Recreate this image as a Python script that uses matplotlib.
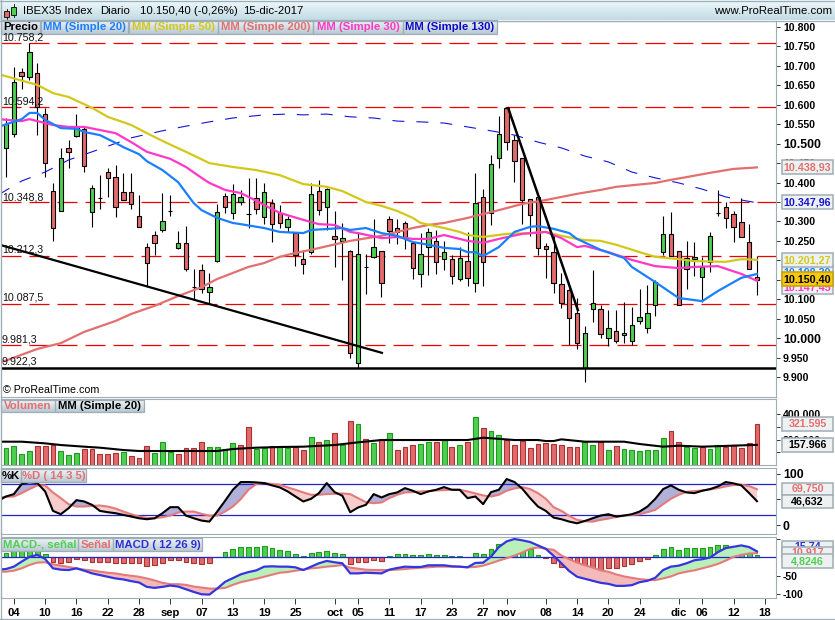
#!/usr/bin/env python3
"""IBEX35 daily candles with moving averages, volume, stochastic and MACD panels."""
import numpy as np
import matplotlib

matplotlib.use("Agg")
import matplotlib.pyplot as plt
from matplotlib.patches import Rectangle

plt.rcParams["font.family"] = ["Liberation Sans", "DejaVu Sans"]

# ---- candles, one value per session
opens = [10489, 10525, 10684, 10671, 10682, 10576, 10378, 10327, 10489, 10520, 10538, 10324, 10360, 10427, 10414, 10376,
         10376, 10314, 10234, 10265, 10278, 10327, 10232, 10245, 10131, 10175, 10118, 10198, 10365, 10322, 10350, 10319,
         10360, 10311, 10347, 10322, 10286, 10270, 10203, 10221, 10378, 10337, 10263, 10250, 10224, 9936, 10183, 10209,
         10224, 10306, 10283, 10296, 10245, 10165, 10234, 10250, 10203, 10203, 10152, 10198, 10142, 10363, 10322, 10463,
         10592, 10509, 10463, 10358, 10363, 10237, 10221, 10139, 10124, 10065, 9923, 10075, 10075, 10000, 10018, 10008,
         9993, 10044, 10026, 10085, 10221, 10268, 10224, 10178, 10203, 10157, 10196, 10322, 10337, 10319, 10299, 10247,
         10157]
highs = [10566, 10697, 10695, 10759, 10707, 10592, 10399, 10489, 10509, 10576, 10543, 10394, 10419, 10437, 10445, 10424,
         10424, 10368, 10245, 10275, 10373, 10368, 10275, 10288, 10178, 10191, 10168, 10345, 10373, 10396, 10381, 10412,
         10412, 10399, 10358, 10342, 10314, 10273, 10227, 10399, 10407, 10386, 10327, 10296, 10227, 10270, 10216, 10306,
         10224, 10314, 10306, 10301, 10247, 10270, 10283, 10278, 10250, 10214, 10234, 10273, 10424, 10383, 10471, 10571,
         10594, 10522, 10463, 10358, 10363, 10245, 10270, 10168, 10126, 10103, 10031, 10175, 10085, 10072, 10072, 10093,
         10080, 10126, 10137, 10149, 10314, 10324, 10224, 10250, 10247, 10209, 10273, 10381, 10350, 10327, 10360, 10293,
         10211]
lows = [10414, 10517, 10641, 10664, 10522, 10414, 10250, 10327, 10437, 10517, 10427, 10286, 10332, 10363, 10311, 10355,
        10332, 10286, 10134, 10214, 10273, 10314, 10229, 10173, 10098, 10116, 10088, 10196, 10322, 10306, 10342, 10283,
        10319, 10293, 10247, 10283, 10273, 10185, 10165, 10216, 10317, 10278, 10183, 10149, 9949, 9923, 10113, 10206,
        10106, 10245, 10242, 10229, 10152, 10131, 10162, 10165, 10175, 10139, 10147, 10134, 10119, 10134, 10291, 10437,
        10484, 10401, 10293, 10263, 10214, 10155, 10116, 10077, 9982, 9972, 9887, 10041, 10000, 9980, 9987, 9987,
        9982, 10036, 10013, 10057, 10214, 10211, 10085, 10126, 10160, 10093, 10170, 10314, 10283, 10247, 10260, 10178,
        10111]
closes = [10551, 10658, 10674, 10736, 10594, 10450, 10283, 10463, 10479, 10543, 10443, 10386, 10360, 10412, 10337, 10355,
          10345, 10286, 10193, 10245, 10301, 10327, 10245, 10178, 10131, 10126, 10131, 10324, 10337, 10371, 10363, 10319,
          10332, 10376, 10293, 10296, 10306, 10214, 10191, 10371, 10329, 10383, 10255, 10257, 9962, 10216, 10183, 10234,
          10142, 10275, 10273, 10260, 10180, 10216, 10273, 10196, 10221, 10160, 10206, 10155, 10347, 10196, 10448, 10525,
          10504, 10455, 10355, 10317, 10232, 10229, 10142, 10090, 10052, 9987, 10013, 10090, 10011, 10026, 9993, 10013,
          10034, 10054, 10065, 10144, 10268, 10211, 10085, 10206, 10209, 10183, 10263, 10322, 10309, 10286, 10260, 10178,
          10150.4]

# ---- moving averages, read at the bar numbers next to them
ma20_x = [-1, 2, 3, 4, 5, 7, 9, 10, 12, 14, 15, 17, 18, 20, 22, 24, 25, 27, 29, 30, 33, 35, 38, 39, 43, 44, 46, 48, 50,
          52, 54, 56, 58, 59, 60, 61, 63, 65, 67, 68, 70, 72, 73, 76, 79, 80, 83, 86, 89, 91, 94, 96]
ma20 = [10543, 10563, 10579, 10579, 10561, 10540, 10538, 10530, 10522, 10502, 10491, 10473, 10455, 10432, 10401, 10347,
        10329, 10309, 10296, 10293, 10283, 10273, 10270, 10278, 10283, 10278, 10283, 10270, 10263, 10247, 10240, 10232,
        10229, 10221, 10221, 10211, 10234, 10273, 10286, 10288, 10281, 10270, 10255, 10227, 10206, 10183, 10144, 10103,
        10095, 10121, 10155, 10165]
ma50_x = [-1, 4, 6, 8, 11, 13, 16, 18, 20, 23, 26, 29, 32, 35, 38, 41, 43, 46, 48, 50, 52, 53, 56, 58, 59, 61, 64, 67,
          69, 71, 73, 74, 76, 78, 81, 83, 86, 88, 92, 94, 96]
ma50 = [10679, 10651, 10630, 10620, 10592, 10569, 10548, 10527, 10507, 10479, 10450, 10440, 10432, 10419, 10396, 10389,
        10378, 10350, 10340, 10327, 10309, 10296, 10283, 10273, 10265, 10260, 10268, 10270, 10273, 10263, 10255, 10252,
        10250, 10240, 10221, 10209, 10203, 10198, 10196, 10203, 10201.27]
ma200_x = [-1, 4, 7, 10, 14, 16, 19, 22, 25, 27, 31, 33, 35, 37, 39, 44, 48, 52, 54, 56, 59, 63, 66, 69, 71, 73, 76, 78,
           83, 85, 87, 90, 93, 96]
ma200 = [9935, 9972, 9987, 10016, 10044, 10062, 10083, 10108, 10131, 10152, 10183, 10193, 10209, 10219, 10227, 10250,
         10263, 10283, 10291, 10296, 10309, 10329, 10345, 10355, 10363, 10371, 10381, 10389, 10399, 10407, 10414, 10425,
         10435, 10438.93]
ma30_x = [-1, 2, 3, 6, 8, 10, 12, 14, 16, 18, 21, 23, 25, 26, 28, 30, 32, 33, 35, 38, 40, 42, 44, 45, 48, 50, 52, 54,
          56, 59, 61, 63, 66, 69, 71, 73, 74, 77, 80, 83, 86, 88, 91, 94, 96]
ma30 = [10563, 10558, 10563, 10548, 10543, 10543, 10535, 10527, 10504, 10479, 10461, 10440, 10412, 10399, 10381, 10373,
        10353, 10342, 10322, 10304, 10293, 10291, 10273, 10270, 10257, 10260, 10255, 10255, 10265, 10250, 10245, 10255,
        10268, 10273, 10257, 10234, 10237, 10221, 10201, 10185, 10180, 10183, 10185, 10165, 10147.45]
ma130_x = [-1, 2, 5, 8, 11, 16, 20, 23, 26, 29, 33, 36, 38, 41, 44, 47, 50, 53, 56, 59, 62, 65, 68, 71, 74, 77, 80, 83,
           86, 89, 92, 94, 96]
ma130 = [10368, 10404, 10427, 10458, 10479, 10515, 10533, 10545, 10556, 10566, 10574, 10576, 10574, 10576, 10569, 10566,
         10558, 10556, 10553, 10543, 10533, 10522, 10504, 10489, 10468, 10453, 10427, 10412, 10399, 10383, 10363, 10355,
         10347.96]

# ---- drawn levels and trend lines
red_levels = [10758.2, 10594.2, 10348.8, 10212.3, 10087.5, 9981.3]
support_level = 9922.3
level_names = ["10.758,2", "10.594,2", "10.348,8", "10.212,3", "10.087,5", "9.981,3", "9.922,3"]
trend1_x = [-0.64, 48.06]
trend1_y = [10239, 9962]
trend2_x = [64.2, 73.1]
trend2_y = [10591, 10072]

# ---- volume
volume = [130700, 149000, 86300, 109800, 149000, 149000, 156800, 109800, 78400, 91500, 125500, 125500, 83600, 83600,
          91500, 99300, 68000, 52300, 149000, 91500, 177800, 104600, 86300, 130700, 130700, 177800, 138500, 138500,
          125500, 169900, 154200, 295400, 125500, 130700, 149000, 143800, 130700, 143800, 117600, 217000, 177800, 196100,
          248300, 156800, 342400, 318900, 203900, 169900, 203900, 248300, 117600, 138500, 154200, 162100, 183000, 183000,
          196100, 138500, 156800, 180400, 373800, 287500, 266600, 235300, 196100, 154200, 190800, 130700, 162100, 172500,
          164700, 156800, 138500, 138500, 180400, 154200, 180400, 117600, 146400, 122900, 117600, 109800, 117600, 117600,
          209100, 264000, 177800, 141200, 130700, 143800, 125500, 154200, 143800, 154200, 130700, 172500, 321595]
volume_up = ("ggggrrrgggrrrrrgrrrgggrrrrggggrrggrg"
             "grrgrgrgrgrgrgrrrggrgrgrgrgg"
             "rrrrrrrrrr"
             "ggrgr"
             "gggggg"
             "rrggrgg"
             "rrrrr")
vol_ma_x = [-1, 2, 5, 7, 10, 12, 15, 17, 27, 29, 32, 35, 38, 42, 45, 48, 54, 59, 61, 65, 68, 69, 70, 71, 74, 79, 81, 84,
            86, 89, 96]
vol_ma = [183000, 183000, 169900, 156800, 143800, 135900, 117600, 109800, 109800, 125500, 135900, 141200, 143800, 156800,
          177800, 196100, 196100, 196100, 214300, 196100, 196100, 188200, 188200, 201300, 183000, 183000, 164700, 143800,
          151600, 143800, 157966]

# ---- stochastic, first value is the bar before the window
stoch_k = [47.4, 55.8, 60.4, 79.9, 83.8, 81.8, 65.6, 27.9, 21.4, 33.1, 48.7, 46.1, 39.6, 27.9, 25.3, 23.4, 20.1, 16.9,
           13.6, 11.7, 13.6, 23.4, 35.1, 35.1, 18.8, 13.6, 9.1, 7.1, 26.6, 47.4, 68.8, 83.8, 83.8, 83.1, 81.8, 77.3, 73.4,
           65.6, 55.8, 46.1, 51.3, 62.3, 81.8, 64.3, 57.1, 25.3, 34.4, 39.6, 60.4, 53.9, 60.4, 63.6, 72, 66.9, 60.4, 65.6,
           68.8, 74, 68.8, 68.8, 52.6, 55.8, 40.9, 64.3, 68.8, 89.6, 83.8, 70.8, 52.6, 36.3, 27.9, 14.9, 11.7, 7.1, 3.9,
           8.4, 13.6, 18.8, 21.4, 16.9, 18.8, 21.4, 26.6, 36.3, 51.3, 70.1, 77.3, 68.8, 63.6, 62.3, 66.9, 70.1, 75.3, 83.8,
           81.2, 77.3, 62.3, 46.632]
stoch_d = [53.9, 55.2, 55.8, 62.3, 70.1, 77.3, 77.3, 63.6, 52.6, 40.9, 36.3, 36.3, 37.6, 38.3, 36.3, 32.4, 26.6, 21.4,
           16.9, 14.3, 13.6, 15.6, 18.8, 24.7, 26.6, 26.6, 22.1, 18.8, 18.8, 26.6, 36.3, 50.6, 68.8, 79.9, 81.8, 79.9, 78.6,
           73.4, 68.8, 63.6, 59.1, 59.1, 60.4, 61, 61.7, 60.4, 52.6, 44.8, 42.8, 44.2, 52.6, 59.1, 63.6, 64.3, 65.6, 66.2,
           67.5, 68.2, 68.8, 68.8, 65.6, 61.7, 57.8, 55.8, 59.1, 66.9, 71.4, 74, 70.1, 62.3, 51.3, 35, 27.9, 18.2, 10.4,
           7.8, 7.1, 10.4, 13, 16.2, 18.8, 20.1, 21.4, 25.3, 29.9, 40.9, 51.3, 59.1, 64.9, 66.2, 67.5, 69.5, 72, 75.3, 77.9,
           78.6, 76, 69.75]

# ---- MACD, line and signal start one bar before the window too
macd_hist = [11, 17.4, 22.9, 24.8, 15.6, 8.3, -11.9, -14.7, -11.9, -4.6, -7.3, -11.9, -11.9, -11.9, -14.7, -14.7, -14.7,
             -14.7, -22.9, -21.1, -14.7, -6.4, -6.4, -11.9, -14.7, -17.4, -14.7, -0.5, 14.7, 22, 27.5, 27.5, 27.5, 30.3,
             24.8, 20.2, 17.4, 8.3, 2.8, 11, 13.8, 16.5, 11, 8.3, -17.4, -11.9, -11.9, -6.4, -9.2, 2.8, 8.3, 8.3, 5.5, 5.5,
             8.3, 5.5, 5.5, 2.8, 2.8, 0.3, 11, 8.3, 22, 35.8, 42.2, 42.2, 30.3, 22, 5.5, -2.8, -16.5, -25.7, -33.9, -42.2,
             -42.2, -33.9, -37.6, -28.4, -28.4, -22.9, -17.4, -9.2, -3.7, 5.5, 22, 27.5, 19.3, 24.8, 24.8, 24.8, 27.5, 33,
             33, 27.5, 24.8, 16.5, 4.8246]
macd_signal = [-39.4, -39.4, -36.7, -30.3, -21.1, -14.7, -13.8, -19.3, -22.9, -26.6, -30.3, -33.9, -35.8, -39.4, -42.2, -44,
               -47.7, -50.5, -53.2, -57.8, -63.3, -69.7, -73.4, -73.4, -75.2, -79.8, -82.6, -85.3, -85.3, -83.5, -75.2,
               -67.9, -63.3, -58.7, -53.2, -47.7, -42.2, -40.4, -36.7, -33.9, -30.3, -28.4, -25.7, -23.9, -21.1, -28.4,
               -31.2, -33.9, -34.9, -34.9, -34.9, -33.9, -32.1, -30.3, -28.4, -27.5, -25.7, -25.7, -25.7, -25.7, -27.5,
               -26.6, -22.9, -16.5, -9.2, -2.8, 4.6, 12.8, 22.9, 26.6, 22.9, 20.2, 4.6, -5.5, -14.7, -22, -28.4, -35.8,
               -39.4, -46.8, -52.3, -56, -59.6, -61.5, -62.4, -57.8, -52.3, -44, -39.4, -35.8, -30.3, -24.8, -18.3, -9.2,
               0.9, 6.4, 10.1, 10.917]
macd_line = [-33.9, -32.1, -25.7, -11.9, 0.9, 6.4, -4.6, -30.3, -33.9, -34.9, -30.3, -36.7, -44, -48.6, -53.2, -57.8, -60.5,
             -65.1, -68.8, -80.7, -83.5, -80.7, -77.1, -79.8, -87.2, -94.5, -100.9, -101.8, -85.3, -67, -56.9, -46.8, -40.4,
             -35.8, -25.7, -24.8, -25.7, -25.7, -27.5, -34.9, -25.7, -16.5, -10.1, -13.8, -16.5, -44, -44, -42.2, -43.1,
             -44, -33.9, -29.4, -25.7, -26.6, -26.6, -22, -22, -22, -24.8, -25.7, -27.5, -15.6, -14.7, 1.8, 27.5, 43.1, 49.5,
             45.9, 41.3, 32.1, 22.9, 3.7, -16.5, -37.6, -53.2, -58.7, -64.2, -69.7, -72.5, -78, -78, -76.1, -67.9, -64.2,
             -56, -34.9, -25.7, -22.9, -16.5, -8.3, -5.5, -0.9, 13.8, 24.8, 28.4, 32.1, 27.5, 15.74]

# ---- axis labels
x_tick_pos = [1, 5, 9, 13, 17, 21, 25, 29, 33, 37, 42, 45, 49, 53, 57, 61, 64, 69, 73, 77, 81, 86, 89, 93, 97]
x_tick_labels = ["04", "10", "16", "22", "28", "sep", "07", "13", "19", "25", "oct", "05", "11", "17", "23", "27", "nov",
                 "08", "14", "20", "24", "dic", "06", "12", "18"]
price_ticks = list(range(9900, 10801, 50))

W, H = 835, 620
LEFT, RIGHT = 1, 776
FRAME = "#9fadb5"
GREEN, RED = "#4fcf4f", "#e26a6a"
GREEN_EDGE, RED_EDGE = "#1f9a1f", "#a83232"
BLUE_LINE = "#2323cc"

fig = plt.figure(figsize=(W / 100, H / 100), dpi=100, facecolor="white")


def panel(top, bottom, ylim):
    ax = fig.add_axes([LEFT / W, 1 - bottom / H, (RIGHT - LEFT) / W, (bottom - top) / H])
    ax.set_xlim(-0.64, 98.43)
    ax.set_ylim(*ylim)
    for side in ax.spines.values():
        side.set_color(FRAME)
        side.set_linewidth(0.8)
    ax.yaxis.tick_right()
    ax.tick_params(axis="y", length=3, width=0.7, color="#333333", pad=2, labelsize=7.6)
    ax.set_xticks([])
    return ax


def style_labels(ax, big=()):
    for lab in ax.get_yticklabels():
        lab.set_fontweight("bold")
        if lab.get_text() in big:
            lab.set_fontsize(8.8)


ax_main = panel(21, 397, (9848.5, 10815.4))
ax_vol = panel(399, 465, (0, 518000))
ax_sto = panel(468, 534, (-16.9, 111))
ax_mac = panel(537, 598, (-111, 55))

bars = np.arange(len(closes))

# candles
ax_main.vlines(bars, lows, highs, color="black", lw=0.8, zorder=3)
for i in bars:
    col = GREEN if closes[i] > opens[i] else RED
    ax_main.bar(i, abs(closes[i] - opens[i]), bottom=min(opens[i], closes[i]), width=0.56, color=col,
                edgecolor="black", linewidth=0.8, zorder=4)

# levels
for lev in red_levels:
    ax_main.plot([-0.64, 98.43], [lev, lev], color="#ee0000", lw=0.9, dashes=(16, 6.4), zorder=2)
ax_main.axhline(support_level, color="black", lw=1.8, zorder=5)

# moving averages
ax_main.plot(ma130_x, ma130, color="#1414d2", lw=0.8, dashes=(10.8, 10.8), zorder=5)
ax_main.plot(ma200_x, ma200, color="#e36f6f", lw=1.6, zorder=5)
ax_main.plot(ma50_x, ma50, color="#d3c81a", lw=1.6, zorder=5)
ax_main.plot(ma30_x, ma30, color="#ff38c8", lw=1.6, zorder=5)
ax_main.plot(ma20_x, ma20, color="#1a80ff", lw=1.6, zorder=5)

ax_main.plot(trend1_x, trend1_y, color="black", lw=1.6, zorder=6)
ax_main.plot(trend2_x, trend2_y, color="black", lw=1.8, zorder=6)

ax_main.set_yticks(price_ticks)
ax_main.set_yticklabels([f"{p:,}".replace(",", ".") for p in price_ticks])
style_labels(ax_main, big=("10.500", "10.000"))

# volume
vol_face = [GREEN if c == "g" else RED for c in volume_up]
vol_edge = [GREEN_EDGE if c == "g" else RED_EDGE for c in volume_up]
ax_vol.bar(bars, volume, width=0.62, color=vol_face, edgecolor=vol_edge, linewidth=0.8, zorder=2)
ax_vol.plot(vol_ma_x, vol_ma, color="black", lw=1.5, zorder=3)
ax_vol.set_yticks([100000, 200000, 300000, 400000])
ax_vol.set_yticklabels(["", "200.000", "", "400.000"])
style_labels(ax_vol)

# stochastic
sto_x = np.arange(-1, len(closes))
k_arr, d_arr = np.array(stoch_k), np.array(stoch_d)
ax_sto.fill_between(sto_x, k_arr, d_arr, where=k_arr >= d_arr, interpolate=True, color="#b0b0d8", lw=0, zorder=1)
ax_sto.fill_between(sto_x, k_arr, d_arr, where=k_arr <= d_arr, interpolate=True, color="#f6cccc", lw=0, zorder=1)
for lev in (80, 20):
    ax_sto.axhline(lev, color=BLUE_LINE, lw=0.9, zorder=2)
ax_sto.plot(sto_x, d_arr, color="#e57a7a", lw=1.5, zorder=3)
ax_sto.plot(sto_x, k_arr, color="black", lw=1.5, zorder=4)
ax_sto.set_yticks([0, 50, 100])
ax_sto.set_yticklabels(["0", "", "100"])
style_labels(ax_sto, big=("0", "100"))

# MACD
hist_face = [GREEN if v >= 0 else RED for v in macd_hist]
hist_edge = [GREEN_EDGE if v >= 0 else RED_EDGE for v in macd_hist]
ax_mac.bar(bars, macd_hist, width=0.62, color=hist_face, edgecolor=hist_edge, linewidth=0.8, zorder=1)
m_arr, s_arr = np.array(macd_line), np.array(macd_signal)
ax_mac.fill_between(sto_x, m_arr, s_arr, where=m_arr >= s_arr, interpolate=True, color="#b9f0b9", lw=0, zorder=2)
ax_mac.fill_between(sto_x, m_arr, s_arr, where=m_arr <= s_arr, interpolate=True, color="#f4baba", lw=0, zorder=2)
ax_mac.axhline(0, color=BLUE_LINE, lw=0.9, zorder=3)
ax_mac.plot(sto_x, s_arr, color="#e57a7a", lw=1.5, zorder=4)
ax_mac.plot(sto_x, m_arr, color="#3535e0", lw=1.6, zorder=5)
ax_mac.set_yticks([-100, -50, 50])
ax_mac.set_yticklabels(["-100", "-50", ""])
style_labels(ax_mac)
ax_mac.set_xticks(x_tick_pos)
ax_mac.set_xticklabels(x_tick_labels, fontweight="bold", fontsize=8.1)
ax_mac.tick_params(axis="x", length=4, width=0.7, color="#333333", pad=3)

# ---- window chrome on a pixel-sized overlay
over = fig.add_axes([0, 0, 1, 1], zorder=10)
over.patch.set_visible(False)
over.axis("off")


def gradient(x0, x1, y0, y1, top_col, bottom_col):
    c0 = np.array(matplotlib.colors.to_rgb(top_col))
    c1 = np.array(matplotlib.colors.to_rgb(bottom_col))
    t = np.linspace(0, 1, 16)[:, None, None]
    over.imshow(c0 + (c1 - c0) * t, extent=(x0, x1, y1, y0), aspect="auto", interpolation="bilinear", zorder=1)


def tab(x0, x1, y0, y1, text, color):
    gradient(x0, x1, y0, y1, "#eef4f7", "#b9c9d3")
    over.add_patch(Rectangle((x0, y0), x1 - x0, y1 - y0, fill=False, ec=FRAME, lw=0.9, zorder=2))
    over.text((x0 + x1) / 2, (y0 + y1) / 2 + 0.3, text, color=color, fontsize=8.2, fontweight="bold",
              ha="center", va="center", zorder=3)


def value_box(yc, text, color, face="#eef1f2", edge=FRAME, h=13.5, z=4):
    over.add_patch(Rectangle((782, yc - h / 2), 51, h, fc=face, ec=edge, lw=1.1, zorder=z))
    over.text(807.5, yc + 0.2, text, color=color, fontsize=7.7, fontweight="bold", ha="center", va="center", zorder=z)


# header strip and outer border
gradient(0, 835, 0, 20, "#ecf9fc", "#c4dbe4")
over.plot([0, 835], [20.5, 20.5], color=FRAME, lw=0.9, zorder=2)
over.plot([0, 835], [0.5, 0.5], color=FRAME, lw=0.9, zorder=2)
over.plot([0, 835], [619.3, 619.3], color=FRAME, lw=0.9, zorder=2)
over.plot([0.5, 0.5], [0, 620], color=FRAME, lw=0.9, zorder=2)
over.add_patch(Rectangle((4, 11), 5, 6, fc=RED, ec="black", lw=0.6, zorder=3))
over.plot([6.5, 6.5], [9, 19], color="black", lw=0.6, zorder=2)
over.add_patch(Rectangle((11, 7), 5, 8, fc=GREEN, ec="black", lw=0.6, zorder=3))
over.plot([13.5, 13.5], [4, 17], color="black", lw=0.6, zorder=2)
for x, txt in [(23, "IBEX35 Index"), (100, "Diario"), (140, "10.150,40 (-0,26%)"), (243, "15-dic-2017")]:
    over.text(x, 11, txt, fontsize=8.2, ha="left", va="center", color="black", zorder=3)
over.text(832, 11, "www.ProRealTime.com", fontsize=8.2, ha="right", va="center", color="black", zorder=3)

# legend tabs
tab(1, 40, 20, 34, "Precio", "black")
tab(41, 128, 20, 34, "MM (Simple 20)", "#1a80ff")
tab(129, 218, 20, 34, "MM (Simple 50)", "#d3c81a")
tab(218, 313, 20, 34, "MM (Simple 200)", "#e36f6f")
tab(313, 403, 20, 34, "MM (Simple 30)", "#ff38c8")
tab(403, 497, 20, 34, "MM (Simple 130)", "#0c0cc8")
tab(1, 55, 400, 412, "Volumen", "#e36f6f")
tab(55, 144, 400, 412, "MM (Simple 20)", "black")
tab(1, 21, 469, 482, "%K", "black")
tab(21, 86, 469, 482, "%D ( 14 3 5)", "#e36f6f")
tab(1, 78, 538, 551, "MACD-, señal", "#4fcf4f")
tab(78, 113, 538, 551, "Señal", "#e36f6f")
tab(113, 202, 538, 551, "MACD ( 12 26 9)", "#2f2fd8")

# level names just above their lines
name_y = [38, 101, 197, 250, 298, 339, 362]
for yy, nm in zip(name_y, level_names):
    over.text(2, yy, nm, fontsize=7.7, ha="left", va="center", color="#111111", zorder=3)
over.text(3, 390, "© ProRealTime.com", fontsize=7.7, ha="left", va="center", color="black", zorder=3)

# current values on the right scale
value_box(167, "10.438,93", "#e36f6f")
value_box(202, "10.347,96", "#1414d2")
value_box(272, "10.198,30", "#1a80ff", z=4)
value_box(287, "10.147,45", "#ff38c8", z=5)
value_box(260, "10.201,27", "#d3c81a", z=6)
value_box(279, "10.150,40", "black", face="#f6c814", edge="#c9a000", z=7)
value_box(424, "321.595", "#e36f6f")
value_box(445, "157.966", "black")
value_box(488.5, "69,750", "#e36f6f", h=12)
value_box(501.5, "46,632", "black")
value_box(546, "15,74", "#2f2fd8", h=11, z=4)
value_box(552, "10,917", "#e36f6f", h=10, z=5)
value_box(561, "4,8246", "#4fcf4f", z=6)

over.set_xlim(0, W)
over.set_ylim(H, 0)

fig.savefig("out.png", dpi=100)
